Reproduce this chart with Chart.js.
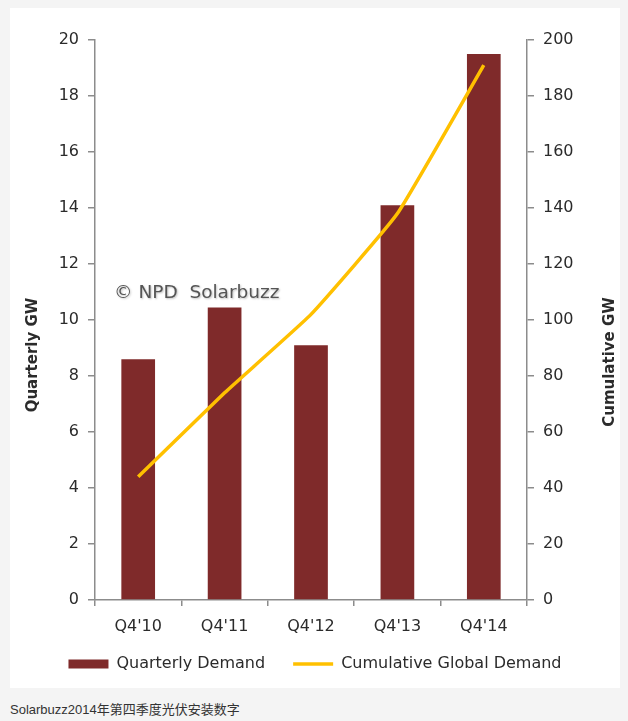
<!DOCTYPE html>
<html lang="zh">
<head>
    <meta charset="UTF-8">
    <title>Solarbuzz 2014 Q4</title>
    <script src="https://cdn.jsdelivr.net/npm/chart.js"></script>
    <style>
        html, body {
            margin: 0;
            padding: 0;
            background: #f4f4f4;
        }
        .panel {
            position: absolute;
            left: 10px;
            top: 8px;
            width: 610px;
            height: 680px;
            background: #fff;
        }
        .caption {
            position: absolute;
            left: 10px;
            top: 699px;
            font: 13px "Liberation Sans", "Noto Sans CJK SC", sans-serif;
            color: #333;
        }
    </style>
</head>
<body>
    <div class="panel">
        <canvas id="chart" width="610" height="680"></canvas>
    </div>
    <div class="caption">Solarbuzz2014年第四季度光伏安装数字</div>

    <script>
        const categories = ["Q4'10", "Q4'11", "Q4'12", "Q4'13", "Q4'14"];
        const quarterlyDemand = [8.6, 10.45, 9.1, 14.1, 19.5];
        const cumulativeDemand = [44, 74, 102, 138, 191];
        const leftTicks = [0, 2, 4, 6, 8, 10, 12, 14, 16, 18, 20];
        const rightTicks = [0, 20, 40, 60, 80, 100, 120, 140, 160, 180, 200];

        const axisGray = '#8c8c8c';
        const textColor = '#2b2b2b';
        const font = 'DejaVu Sans';

        // axis titles read bottom-to-top on both sides, plus the watermark
        const extras = {
            id: 'extras',
            afterLayout(chart) {
                // pull the legend a bit closer to the category labels
                chart.legend.top -= 10;
                chart.legend.bottom -= 10;
            },
            afterDraw(chart) {
                const c = chart.ctx;
                const area = chart.chartArea;
                c.save();
                c.fillStyle = textColor;
                c.font = 'bold 15px "' + font + '"';
                c.textAlign = 'center';
                c.textBaseline = 'middle';

                c.save();
                c.translate(23, area.bottom - 245);
                c.rotate(-Math.PI / 2);
                c.fillText('Quarterly GW', 0, 0);
                c.restore();

                c.save();
                c.translate(chart.width - 10, area.bottom - 238);
                c.rotate(-Math.PI / 2);
                c.fillText('Cumulative GW', 0, 0);
                c.restore();

                c.font = '18.5px "' + font + '"';
                c.textAlign = 'left';
                c.fillStyle = '#555';
                c.shadowColor = 'rgba(0,0,0,0.25)';
                c.shadowBlur = 2;
                c.shadowOffsetX = 1;
                c.shadowOffsetY = 1;
                c.fillText('\u00a9 NPD  Solarbuzz', area.left + 19, area.top + 253);
                c.restore();
            }
        };

        Chart.defaults.font.family = font;
        Chart.defaults.font.size = 16;
        Chart.defaults.color = textColor;

        new Chart(document.getElementById('chart'), {
            type: 'bar',
            data: {
                labels: categories,
                datasets: [{
                    type: 'line',
                    label: 'Cumulative Global Demand',
                    data: cumulativeDemand,
                    yAxisID: 'y2',
                    borderColor: '#ffc000',
                    backgroundColor: '#ffc000',
                    borderWidth: 3.5,
                    pointRadius: 0,
                    pointStyle: 'line',
                    tension: 0.12,
                    order: 0
                }, {
                    label: 'Quarterly Demand',
                    data: quarterlyDemand,
                    yAxisID: 'y',
                    backgroundColor: '#7f2a2a',
                    borderWidth: 0,
                    pointStyle: 'rect',
                    barPercentage: 0.39,
                    categoryPercentage: 1,
                    order: 1
                }]
            },
            options: {
                responsive: false,
                animation: false,
                layout: {
                    padding: { left: 0, right: 0, top: 32, bottom: 0 }
                },
                plugins: {
                    legend: {
                        position: 'bottom',
                        reverse: true,
                        maxHeight: 50,
                        labels: {
                            usePointStyle: true,
                            pointStyleWidth: 40,
                            boxHeight: 9,
                            padding: 28,
                            color: textColor
                        }
                    },
                    tooltip: { enabled: false }
                },
                scales: {
                    x: {
                        offset: true,
                        afterFit(axis) { axis.height = 38; },
                        grid: {
                            offset: true,
                            drawOnChartArea: false,
                            tickLength: 6,
                            color: axisGray,
                            lineWidth: 1.5
                        },
                        border: { color: axisGray, width: 1.5 },
                        ticks: { padding: 11 }
                    },
                    y: {
                        position: 'left',
                        min: 0,
                        max: 20,
                        afterBuildTicks(axis) {
                            axis.ticks = leftTicks.map(v => ({ value: v }));
                        },
                        afterFit(axis) { axis.width = 85; },
                        grid: {
                            drawOnChartArea: false,
                            tickLength: 7,
                            color: axisGray,
                            lineWidth: 1.5
                        },
                        border: { color: axisGray, width: 1.5 },
                        ticks: { padding: 9 }
                    },
                    y2: {
                        position: 'right',
                        min: 0,
                        max: 200,
                        afterBuildTicks(axis) {
                            axis.ticks = rightTicks.map(v => ({ value: v }));
                        },
                        afterFit(axis) { axis.width = 93; },
                        grid: {
                            drawOnChartArea: false,
                            tickLength: 7,
                            color: axisGray,
                            lineWidth: 1.5
                        },
                        border: { color: axisGray, width: 1.5 },
                        ticks: { padding: 9 }
                    }
                }
            },
            plugins: [extras]
        });
    </script>
</body>
</html>
